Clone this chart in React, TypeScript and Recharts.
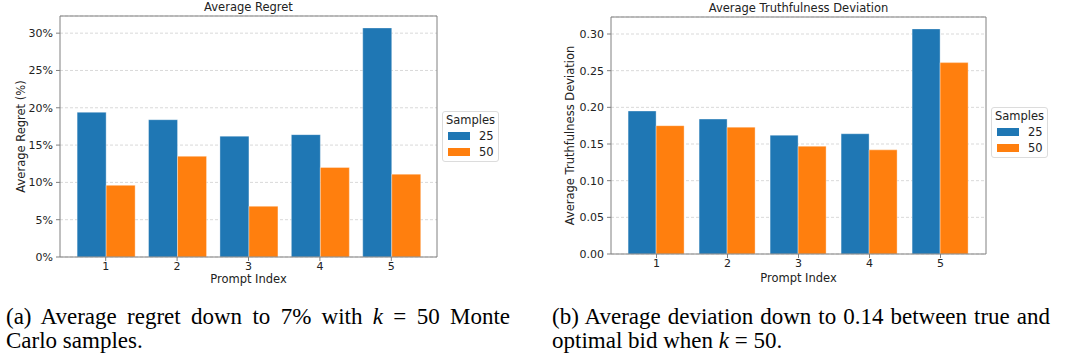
import React from 'react'
import { Bar, BarChart, CartesianGrid, Legend, XAxis, YAxis } from 'recharts'

// values
const prompts = ['1', '2', '3', '4', '5']
const regret25 = [19.4, 18.4, 16.2, 16.4, 30.7]
const regret50 = [9.6, 13.5, 6.8, 12.0, 11.1]
const dev25 = [0.195, 0.184, 0.162, 0.164, 0.307]
const dev50 = [0.175, 0.173, 0.147, 0.142, 0.261]
const sampleNames = ['25', '50']
const regretTicks = [0, 5, 10, 15, 20, 25, 30]
const devTicks = [0, 0.05, 0.1, 0.15, 0.2, 0.25, 0.3]

const FONT = '"DejaVu Sans", Verdana, sans-serif'
const SERIF = '"Liberation Serif", "Times New Roman", serif'
const INK = '#222'
const FRAME = '#808080'
const BLUE = '#1f77b4'
const ORANGE = '#ff7f0e'

const regretData = prompts.map((p, i) => ({ prompt: p, s25: regret25[i], s50: regret50[i] }))
const devData = prompts.map((p, i) => ({ prompt: p, s25: dev25[i], s50: dev50[i] }))

const TitleLabel = (props: any) => {
    const { viewBox, text } = props
    return (
        <text x={viewBox.x + viewBox.width / 2} y={viewBox.y - 8} textAnchor="middle"
            dominantBaseline="central" fontSize={11.5} fill={INK} fontFamily={FONT}>
            {text}
        </text>
    )
}

const XLabel = (props: any) => {
    const { viewBox, text, dy } = props
    return (
        <text x={viewBox.x + viewBox.width / 2} y={viewBox.y + dy} textAnchor="middle"
            dominantBaseline="central" fontSize={11.5} fill={INK} fontFamily={FONT}>
            {text}
        </text>
    )
}

const YLabel = (props: any) => {
    const { viewBox, text, lx } = props
    const x = viewBox.x + lx
    const y = viewBox.y + viewBox.height / 2
    return (
        <text x={x} y={y} transform={`rotate(-90, ${x}, ${y})`} textAnchor="middle"
            dominantBaseline="central" fontSize={11.5} fill={INK} fontFamily={FONT}>
            {text}
        </text>
    )
}

const SamplesLegend = (props: any) => {
    const { payload } = props
    return (
        <div style={{
            boxSizing: 'border-box', width: 57, border: '1px solid #dcdcdc', borderRadius: 3,
            background: 'rgba(255,255,255,0.85)', padding: '0 3px 1px', fontFamily: FONT,
            fontSize: 11.5, color: INK,
        }}>
            <div style={{ textAlign: 'center', lineHeight: '16px', height: 16, whiteSpace: 'nowrap' }}>Samples</div>
            {(payload || []).map((item: any) => (
                <div key={item.value} style={{ display: 'flex', alignItems: 'center', height: 16 }}>
                    <span style={{ display: 'inline-block', width: 22, height: 8, marginLeft: 2, background: item.color, marginRight: 9 }} />
                    <span style={{ lineHeight: '16px' }}>{item.value}</span>
                </div>
            ))}
        </div>
    )
}

type PanelProps = {
    data: any[]
    title: string
    yLabel: string
    yDomain: number[]
    yTicks: number[]
    fmt: (v: number) => string
    width: number
    height: number
    margin: { top: number, right: number, bottom: number, left: number }
    yAxisWidth: number
    xAxisHeight: number
    yLabelX: number
    xLabelDy: number
    legendLeft: number
    legendTop: number
}

function Panel(p: PanelProps) {
    return (
        <BarChart width={p.width} height={p.height} data={p.data} margin={p.margin}
            barCategoryGap="10%" barGap={0}>
            <CartesianGrid vertical={false} stroke="#d9d9d9" strokeDasharray="3 2" />
            <XAxis dataKey="prompt" height={p.xAxisHeight} padding={{ left: 10, right: 10 }}
                axisLine={{ stroke: FRAME }} tickLine={{ stroke: FRAME }} tickSize={4} tickMargin={1}
                tick={{ fontSize: 11, fill: INK, fontFamily: FONT }}
                label={<XLabel text="Prompt Index" dy={p.xLabelDy} />} />
            <XAxis xAxisId="top" orientation="top" dataKey="prompt" height={1} tick={false}
                tickLine={false} axisLine={{ stroke: FRAME }} label={<TitleLabel text={p.title} />} />
            <YAxis width={p.yAxisWidth} domain={p.yDomain} ticks={p.yTicks} tickFormatter={p.fmt}
                allowDataOverflow axisLine={{ stroke: FRAME }} tickLine={{ stroke: FRAME }} tickSize={4}
                tickMargin={3} tick={{ fontSize: 11, fill: INK, fontFamily: FONT }}
                label={<YLabel text={p.yLabel} lx={p.yLabelX} />} />
            <YAxis yAxisId="right" orientation="right" width={1} domain={p.yDomain} tick={false}
                tickLine={false} axisLine={{ stroke: FRAME }} />
            <Legend layout="vertical" align="center" verticalAlign="middle"
                wrapperStyle={{ left: p.legendLeft, top: p.legendTop, width: 57 }}
                content={<SamplesLegend />} />
            <Bar dataKey="s25" name={sampleNames[0]} fill={BLUE} stroke="#ffffff" strokeOpacity={0.35}
                isAnimationActive={false} />
            <Bar dataKey="s50" name={sampleNames[1]} fill={ORANGE} stroke="#ffffff" strokeOpacity={0.35}
                isAnimationActive={false} />
        </BarChart>
    )
}

const captionStyle: React.CSSProperties = {
    position: 'absolute', top: 305, fontFamily: SERIF, fontSize: 23, lineHeight: '24px', color: '#000',
}

export default function App() {
    return (
        <div style={{ position: 'absolute', left: 0, top: 0, width: 1065, height: 362, background: '#fff', overflow: 'hidden' }}>
            <div style={{ position: 'absolute', left: 0, top: 0 }}>
                <Panel data={regretData} title="Average Regret" yLabel="Average Regret (%)"
                    yDomain={[0, 32.3]} yTicks={regretTicks} fmt={(v) => `${v}%`}
                    width={530} height={290} margin={{ top: 15, right: 92, bottom: 0, left: 0 }}
                    yAxisWidth={60} xAxisHeight={33} yLabelX={21} xLabelDy={22}
                    legendLeft={442} legendTop={111} />
            </div>
            <div style={{ position: 'absolute', left: 530, top: 0 }}>
                <Panel data={devData} title="Average Truthfulness Deviation" yLabel="Average Truthfulness Deviation"
                    yDomain={[0, 0.3232]} yTicks={devTicks} fmt={(v) => v.toFixed(2)}
                    width={535} height={290} margin={{ top: 16, right: 78, bottom: 0, left: 0 }}
                    yAxisWidth={81} xAxisHeight={36} yLabelX={40} xLabelDy={24}
                    legendLeft={461} legendTop={107} />
            </div>
            <div style={{ ...captionStyle, left: 6, width: 504 }}>
                <div style={{ textAlign: 'justify', textAlignLast: 'justify', whiteSpace: 'nowrap' }}>
                    (a) Average regret down to 7% with <i>k</i> = 50 Monte
                </div>
                <div>Carlo samples.</div>
            </div>
            <div style={{ ...captionStyle, left: 552, width: 498 }}>
                <div style={{ textAlign: 'justify', textAlignLast: 'justify', whiteSpace: 'nowrap' }}>
                    (b) Average deviation down to 0.14 between true and
                </div>
                <div>optimal bid when <i>k</i> = 50.</div>
            </div>
        </div>
    )
}
